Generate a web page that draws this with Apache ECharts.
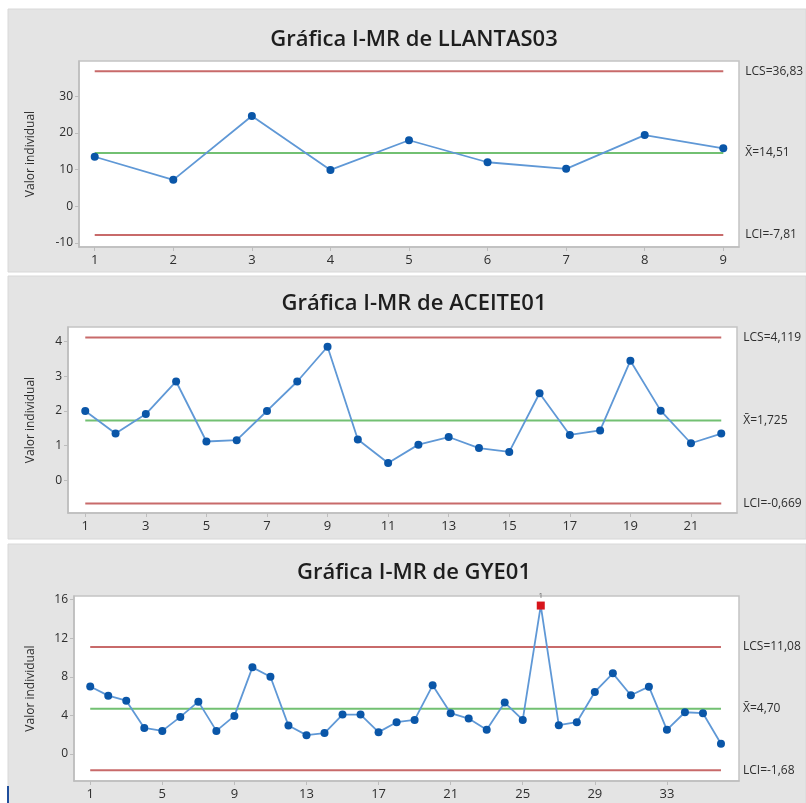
<!DOCTYPE html>
<html>
<head>
<meta charset="utf-8">
<script src="https://cdn.jsdelivr.net/npm/echarts@6/dist/echarts.min.js"></script>
<style>
html,body{margin:0;padding:0;background:#fff;}
#c{width:806px;height:803px;}
</style>
</head>
<body>
<div id="c"></div>
<script>
// ---------- DATA ----------
const titles = ['Gráfica I-MR de LLANTAS03', 'Gráfica I-MR de ACEITE01', 'Gráfica I-MR de GYE01'];

const llantasVals = [13.5, 7.2, 24.6, 9.9, 18.0, 12.0, 10.2, 19.4, 15.8];
const aceiteVals = [2.0, 1.35, 1.91, 2.85, 1.12, 1.16, 2.0, 2.85, 3.85, 1.18, 0.5,
                    1.03, 1.25, 0.93, 0.82, 2.51, 1.31, 1.44, 3.45, 2.01, 1.07, 1.35];
const gyeVals = [7.0, 6.05, 5.53, 2.71, 2.4, 3.85, 5.43, 2.4, 3.95, 8.98, 8.01, 2.95,
                 1.96, 2.17, 4.09, 4.09, 2.27, 3.3, 3.54, 7.12, 4.23, 3.68, 2.51, 5.33,
                 3.54, 15.38, 2.99, 3.3, 6.43, 8.36, 6.09, 6.98, 2.51, 4.33, 4.23, 1.06];

// limits: [LCS, mean, LCI]
const llantasLimits = [36.83, 14.51, -7.81];
const aceiteLimits = [4.119, 1.725, -0.669];
const gyeLimits = [11.08, 4.70, -1.68];

const llantasLimitLabels = ['LCS=36,83', 'X\u0304=14,51', 'LCI=-7,81'];
const aceiteLimitLabels = ['LCS=4,119', 'X\u0304=1,725', 'LCI=-0,669'];
const gyeLimitLabels = ['LCS=11,08', 'X\u0304=4,70', 'LCI=-1,68'];

const llantasYTicks = [-10, 0, 10, 20, 30];
const aceiteYTicks = [0, 1, 2, 3, 4];
const gyeYTicks = [0, 4, 8, 12, 16];

const llantasXTicks = [1, 2, 3, 4, 5, 6, 7, 8, 9];
const aceiteXTicks = [1, 3, 5, 7, 9, 11, 13, 15, 17, 19, 21];
const gyeXTicks = [1, 5, 9, 13, 17, 21, 25, 29, 33];

const yName = 'Valor individual';
const failLabel = '1';

// ---------- LAYOUT ----------
const panels = [
  {vals: llantasVals, lim: llantasLimits, labs: llantasLimitLabels, yT: llantasYTicks, xT: llantasXTicks,
   grid: {left: 79, top: 61, width: 660, height: 186}, xr: [0.8, 9.2], yr: [-11.1, 39.6], nameGap: 42,
   bg: [9, 263], titleY: 40},
  {vals: aceiteVals, lim: aceiteLimits, labs: aceiteLimitLabels, yT: aceiteYTicks, xT: aceiteXTicks,
   grid: {left: 68, top: 327, width: 669, height: 186}, xr: [0.43, 22.52], yr: [-0.94, 4.42], nameGap: 31,
   bg: [276, 263], titleY: 304},
  {vals: gyeVals, lim: gyeLimits, labs: gyeLimitLabels, yT: gyeYTicks, xT: gyeXTicks,
   grid: {left: 74, top: 596, width: 665, height: 185}, xr: [0.1, 37.0], yr: [-2.79, 16.37], nameGap: 37,
   bg: [544, 262], titleY: 573}
];

const FONT = '"Open Sans", "Segoe UI", sans-serif';
const axisColor = '#bdbdbd';
const textColor = '#2e2e2e';
const redC = '#c86a6a';
const greenC = '#72c072';

const grids = [], xAxes = [], yAxes = [], series = [], graphics = [];

panels.forEach((p, i) => {
  graphics.push({type: 'rect', z: -10, shape: {x: 8, y: p.bg[0], width: 798, height: p.bg[1]},
    style: {fill: '#e4e4e4', stroke: '#d8d8d8', lineWidth: 1}});
  graphics.push({type: 'text', z: 10, style: {text: titles[i], x: 414, y: p.titleY, textAlign: 'center',
    textVerticalAlign: 'middle', font: '600 22px ' + FONT, fill: '#1e1e1e'}});

  grids.push(Object.assign({show: true, backgroundColor: '#ffffff', borderColor: '#c4c4c4', borderWidth: 1.5}, p.grid));

  xAxes.push({type: 'value', gridIndex: i, min: p.xr[0], max: p.xr[1],
    axisLine: {show: true, onZero: false, lineStyle: {color: axisColor, width: 1.5}},
    axisTick: {show: true, customValues: p.xT, length: 4, lineStyle: {color: axisColor}},
    axisLabel: {customValues: p.xT, color: textColor, fontSize: 13, fontFamily: FONT, margin: 7},
    splitLine: {show: false}});

  yAxes.push({type: 'value', gridIndex: i, min: p.yr[0], max: p.yr[1],
    name: yName, nameLocation: 'middle', nameRotate: 90, nameGap: p.nameGap,
    nameTextStyle: {color: textColor, fontSize: 12, fontFamily: FONT},
    axisLine: {show: true, onZero: false, lineStyle: {color: axisColor, width: 1.5}},
    axisTick: {show: true, customValues: p.yT, length: 4, lineStyle: {color: axisColor}},
    axisLabel: {customValues: p.yT, color: textColor, fontSize: 12, fontFamily: FONT, margin: 6},
    splitLine: {show: false}});

  const n = p.vals.length;
  const lineColors = [redC, greenC, redC];
  p.lim.forEach((v, k) => {
    series.push({type: 'line', xAxisIndex: i, yAxisIndex: i, data: [[1, v], [n, v]],
      symbol: 'none', silent: true, z: 1,
      lineStyle: {color: lineColors[k], width: 2},
      endLabel: {show: true, formatter: p.labs[k], distance: 22, color: textColor,
        fontSize: 12, fontFamily: FONT}});
  });

  const data = p.vals.map((v, j) => {
    if (v > p.lim[0]) {
      return {value: [j + 1, v], symbol: 'rect', symbolSize: 8,
        itemStyle: {color: '#d7141b'},
        label: {show: true, formatter: failLabel, position: 'top', distance: 2,
          fontSize: 8, color: '#666', fontFamily: FONT}};
    }
    return [j + 1, v];
  });
  series.push({type: 'line', xAxisIndex: i, yAxisIndex: i, data: data,
    symbol: 'circle', symbolSize: 8, showAllSymbol: true, z: 3,
    lineStyle: {color: '#5f98d6', width: 1.8},
    itemStyle: {color: '#0a56a8'}});
});

graphics.push({type: 'line', shape: {x1: 8, y1: 786, x2: 8, y2: 803}, style: {stroke: '#1f4e9c', lineWidth: 2}});

const chart = echarts.init(document.getElementById('c'), null, {renderer: 'canvas'});
chart.setOption({
  animation: false,
  backgroundColor: '#ffffff',
  grid: grids,
  xAxis: xAxes,
  yAxis: yAxes,
  series: series,
  graphic: graphics
});
</script>
</body>
</html>
